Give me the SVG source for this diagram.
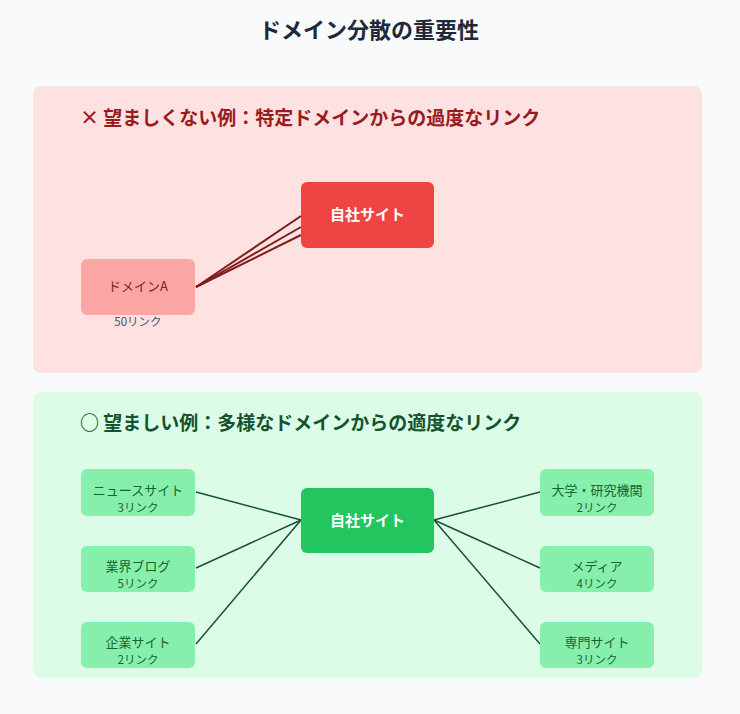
<svg xmlns="http://www.w3.org/2000/svg" width="740" height="714" viewBox="0 0 740 714">
<style>
text{font-family:"Noto Sans CJK JP","Noto Sans",sans-serif;}
.title{font-size:22px;font-weight:bold;fill:#1f2937;text-anchor:middle;}
.sec{font-size:19px;font-weight:bold;}
.site{font-size:15px;font-weight:bold;fill:#ffffff;text-anchor:middle;}
.lbl{font-size:13px;text-anchor:middle;}
.cnt{font-size:11.5px;text-anchor:middle;}
.gnode rect{fill:#86efac;}
.gnode text{fill:#166534;}
.bad line{stroke:#7f1d1d;stroke-width:2;}
.good line{stroke:#14532d;stroke-width:1.5;}
</style>
<rect width="740" height="714" fill="#f8fafc"/>
<text class="title" x="369" y="38">ドメイン分散の重要性</text>
<g id="panel-bad">
<rect x="33" y="86" width="669" height="287" rx="8" fill="#fee2e2"/>
<text class="sec" x="80" y="125" fill="#991b1b">× 望ましくない例：特定ドメインからの過度なリンク</text>
</g>
<g id="panel-good">
<rect x="33" y="392" width="669" height="286" rx="8" fill="#dcfce7"/>
<text class="sec" x="80" y="430" fill="#14532d">○ 望ましい例：多様なドメインからの適度なリンク</text>
</g>
<g id="connectors">
<g class="bad">
<line x1="196" y1="287" x2="301" y2="216"/>
<line x1="196" y1="287" x2="301" y2="227"/>
<line x1="196" y1="287" x2="301" y2="235"/>
</g>
<g class="good">
<line x1="196" y1="492" x2="301" y2="520"/>
<line x1="196" y1="568" x2="301" y2="520"/>
<line x1="196" y1="644" x2="301" y2="520"/>
<line x1="434" y1="520" x2="540" y2="492"/>
<line x1="434" y1="520" x2="540" y2="568"/>
<line x1="434" y1="520" x2="540" y2="644"/>
</g>
</g>
<g id="bad-site">
<rect x="301" y="182" width="133" height="66" rx="6" fill="#ef4444"/>
<text class="site" x="367.5" y="220">自社サイト</text>
</g>
<g id="domain-a">
<rect x="81" y="259" width="114" height="56" rx="6" fill="#fca5a5"/>
<text class="lbl" x="138" y="291" fill="#7f1d1d">ドメインA</text>
<text class="cnt" x="138" y="326" fill="#4b5563">50リンク</text>
</g>
<g id="good-site">
<rect x="301" y="488" width="133" height="65" rx="6" fill="#22c55e"/>
<text class="site" x="367.5" y="526">自社サイト</text>
</g>
<g id="news" class="gnode">
<rect x="81" y="469" width="114" height="47" rx="6"/>
<text class="lbl" x="138" y="495">ニュースサイト</text>
<text class="cnt" x="138" y="511.5">3リンク</text>
</g>
<g id="blog" class="gnode">
<rect x="81" y="546" width="114" height="46" rx="6"/>
<text class="lbl" x="138" y="571">業界ブログ</text>
<text class="cnt" x="138" y="587.5">5リンク</text>
</g>
<g id="corp" class="gnode">
<rect x="81" y="622" width="114" height="46" rx="6"/>
<text class="lbl" x="138" y="647">企業サイト</text>
<text class="cnt" x="138" y="663.5">2リンク</text>
</g>
<g id="univ" class="gnode">
<rect x="540" y="469" width="114" height="47" rx="6"/>
<text class="lbl" x="597" y="495">大学・研究機関</text>
<text class="cnt" x="597" y="511.5">2リンク</text>
</g>
<g id="media" class="gnode">
<rect x="540" y="546" width="114" height="46" rx="6"/>
<text class="lbl" x="597" y="571">メディア</text>
<text class="cnt" x="597" y="587.5">4リンク</text>
</g>
<g id="special" class="gnode">
<rect x="540" y="622" width="114" height="46" rx="6"/>
<text class="lbl" x="597" y="647">専門サイト</text>
<text class="cnt" x="597" y="663.5">3リンク</text>
</g>
</svg>
